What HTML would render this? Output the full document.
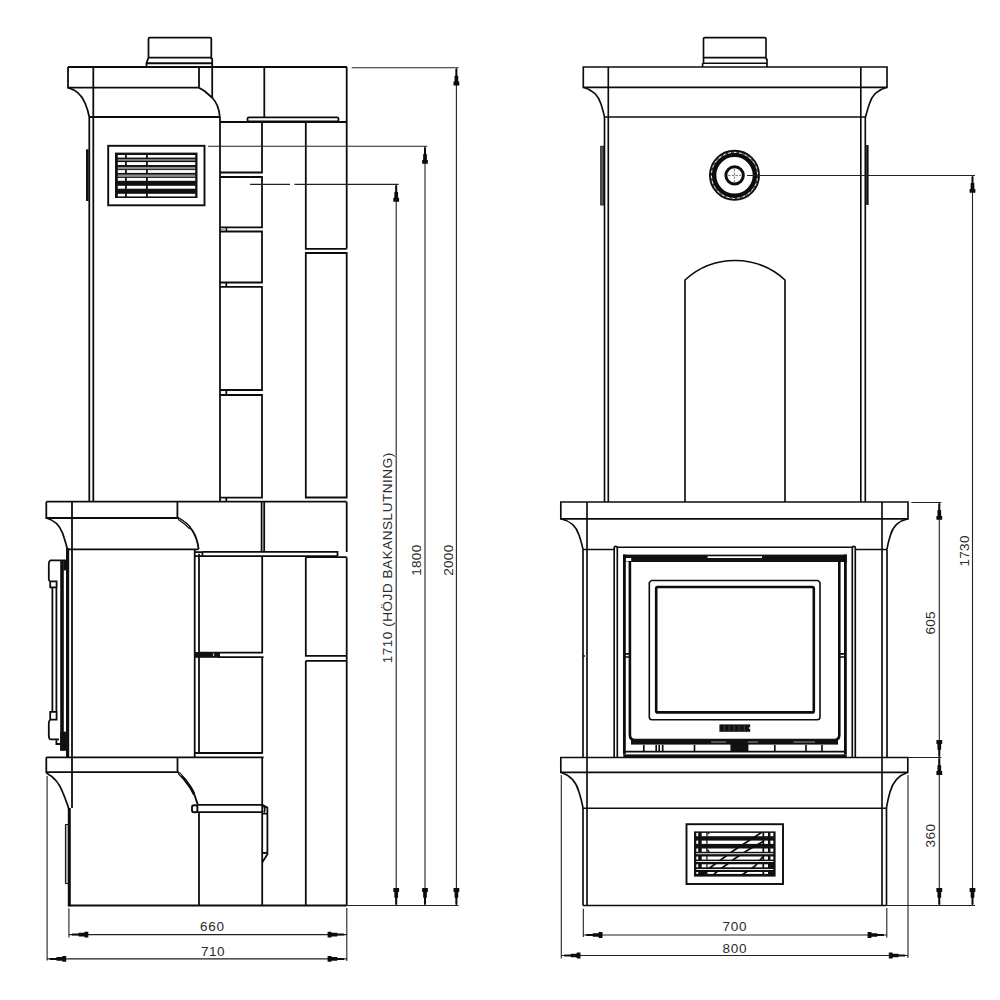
<!DOCTYPE html>
<html><head><meta charset="utf-8">
<style>
html,body{margin:0;padding:0;background:#fff;}
body{width:1000px;height:1000px;overflow:hidden;font-family:"Liberation Sans",sans-serif;}
svg{display:block}
.m{fill:none;stroke:#0c0c0c;stroke-width:1.78;stroke-linecap:butt;stroke-linejoin:miter}
.n{fill:none;stroke:#0c0c0c;stroke-width:1.65}
.k{fill:none;stroke:#0c0c0c;stroke-width:2.5}
.t{fill:none;stroke:#222;stroke-width:1.1}
.b{fill:#111;stroke:none}
.w{fill:#fff;stroke:none}
text{font-family:"Liberation Sans",sans-serif;font-size:13.5px;fill:#2b2b2b}
</style></head><body>
<svg width="1000" height="1000" viewBox="0 0 1000 1000">
<rect width="1000" height="1000" fill="#fff"/>
<defs>
<path id="ah" d="M-1,0 H1 V6.3 L1.85,6.8 V12.2 L2.9,12.7 V16.3 H-2.9 V12.7 L-1.85,12.2 V6.8 L-1,6.3 Z" fill="#0c0c0c"/>
</defs>

<!-- ================= LEFT (SIDE VIEW) ================= -->
<g id="left">
<!-- pipe -->
<path class="m" d="M148.5,57.6 V38.8 Q148.5,37.6 149.7,37.6 H210.1 Q211.3,37.6 211.3,38.8 V59.2 M148.5,57.6 H211.3 M146.5,63.25 H212.2 M148.5,57.6 L146.5,63.25 V67 M211.3,59.2 H212.2 V98"/>
<!-- top cap -->
<path class="m" d="M68,67 H347 M68,67 V87.7 H199 M199,67 V87.7 M93.3,67 V501.7 M264.3,67 V117 M346.7,67 V248.8"/>
<path class="m" d="M68,87.7 Q80,91 85,103 Q88,110 89.3,117"/>
<path class="m" d="M199,87.7 L204.5,91 L212.5,98 Q219,105 219.8,117"/>
<path class="m" d="M89.3,117 H219.8 M89.3,117 V501.7 M220,117 V501.7"/>
<!-- slab -->
<rect class="m" x="247.5" y="117.3" width="91" height="4.2" rx="1.5"/>
<path class="m" d="M220,122 H346.7"/>
<!-- tiles left column -->
<path class="m" d="M220,172.5 H262 V122 M220,177 H262 V227.3 H220 M220,231.5 H262 V282.5 H220 M220,286.8 H262 V390 H220 M220,395 H262 V497.6 H220"/>
<path class="m" d="M226.3,227.3 V231.5 M226.3,282.5 V286.8 M226.3,390 V395 M226.3,497.6 V501.7"/>
<path d="M221,229.5 H226" stroke="#aaa" stroke-width="1.6" fill="none"/>
<!-- right column -->
<path class="m" d="M305.8,122 V248.8 H346.7 M305.8,253 H346.7 V497.5 H305.8 Z"/>
<!-- vent -->
<rect class="m" x="108.2" y="145.8" width="96.3" height="59.5" style="stroke-width:1.9"/>
<rect class="b" x="115" y="152.6" width="82.5" height="45.4"/>
<g class="w">
<rect x="117.8" y="155" width="77.4" height="2.6"/>
<rect x="117.8" y="162.1" width="77.4" height="2.9"/>
<rect x="117.8" y="170.1" width="77.4" height="2.8"/>
<rect x="117.8" y="177.9" width="77.4" height="2.9"/>
<rect x="117.8" y="185.8" width="77.4" height="2.9"/>
<rect x="117.8" y="193.8" width="77.4" height="2.6"/>
</g>
<rect class="b" x="125" y="153" width="1.8" height="45"/>
<rect class="b" x="146" y="153" width="1.8" height="45"/>
<rect x="117.8" y="159.4" width="77.4" height="1.1" fill="#c8c8c8"/>
<rect x="117.8" y="166.9" width="77.4" height="2.3" fill="#8c8c8c"/>
<rect x="117.8" y="174.5" width="77.4" height="2.4" fill="#8c8c8c"/>
<!-- side handle -->
<rect class="b" x="86" y="149.3" width="2.6" height="51.7"/>

<!-- mid cap -->
<path class="m" d="M46.3,501.7 H346.7 M46.3,501.7 V518 H177.4 V501.7 M72,501.7 V808 M261.6,501.7 V551.5 M264.2,501.7 V551.5 M346.7,501.7 V552"/>
<path class="m" d="M46.3,518 Q58,521 62.5,533 Q66,543 67.3,549.3"/>
<path class="m" d="M177.3,517.3 L180,519.4 Q187.5,524 192,530 Q197.2,537.5 198.6,549" style="stroke-width:1.9"/>
<path class="m" d="M178.6,518.6 L180.5,520 Q186,523.5 190,528" style="stroke-width:3"/>
<path d="M179,518.9 L180.5,520 Q186,523.5 189.3,527.3" stroke="#fff" stroke-width="0.7" fill="none"/>
<path class="m" d="M67,549.3 H198.6 M194.7,549.3 V757 M199,553.7 V753"/>
<!-- shelf -->
<path class="m" d="M202.4,551.9 H337.5 V556.1 M195,556.1 H337.5 M195,552.2 H202.4 V556.1 M305.8,557.2 H346.7"/>
<!-- door edge -->
<rect class="b" x="66" y="548" width="3.2" height="209"/>
<rect class="b" x="60.2" y="560.4" width="3.6" height="190"/>
<rect class="b" x="63.5" y="560.4" width="3" height="10"/>
<rect class="b" x="60.2" y="731.6" width="8.4" height="19.2"/>
<!-- handle -->
<path class="m" d="M66,560.4 H50.5 Q48.6,561 48.8,566 V579 Q48.8,581 50.2,581.5 V587.4 H56.6 V581.4 H50.2 M52.4,587.4 V711.8 M56.4,587.4 V711.8 M50.2,719.6 V711.8 H56.6 V719.6 H50.2 M50.2,719.6 Q48.6,721 48.8,726 V735 Q48.8,739 50.5,739.4 H59 M56.4,739.4 V744 H60"/>
<!-- lower tiles -->
<path class="m" d="M199,652.6 H262.2 M218,657.1 H263.6 M194.7,753 H262.2 M262.2,556.1 V653.4 M262.2,656.3 V753.8 M262.2,757.2 V905.5"/>
<rect class="b" x="194" y="652" width="26" height="5.8"/><rect class="w" x="213.2" y="653.5" width="0.9" height="2.5"/>
<path class="m" d="M305.8,557.2 V655.8 H346.7 M305.8,660.8 H346.7 M305.8,660.8 V905.5 M346.7,557.2 V905.5"/>

<!-- bottom cap -->
<path class="m" d="M46.3,757.3 H263.6 M46.3,757.3 V772.2 H177.5 V757.3"/>
<path class="m" d="M46.4,773 Q58,779 63,793 Q67,803 68.7,808.5"/>
<path class="m" d="M177.3,771.8 L179.5,773.6 Q185,779 190.2,787 Q195.5,795.5 197.7,804.4" style="stroke-width:1.9"/>
<path class="m" d="M179,773.2 Q185,779 190.2,787 Q192.5,790.5 194,794" style="stroke-width:2.8"/>
<path d="M179.3,773.6 L181.5,775.7" stroke="#fff" stroke-width="0.8" fill="none"/>
<path class="m" d="M69.3,808 V906.3" style="stroke-width:3"/>
<path class="m" d="M68,905.5 H346.7"/>
<path class="n" d="M68,824.5 H65.4 V883.6 H68" style="fill:#aaa;stroke-width:1"/>
<!-- rail -->
<path class="m" d="M197,804.9 H262.5 L267.4,807.6 V854.3 L262.2,862.5 M197,812.1 H262 M262,813.6 H267.4 M262,852.6 Q265,853.6 267.4,852.2 M263.8,806 Q265.6,809 264,812.3"/>
<rect x="192" y="805.2" width="5.4" height="7" rx="2" class="m" style="stroke-width:1.9"/>
<path class="m" d="M199,812 V905.5"/>
</g>

<!-- left dimensions -->
<g id="ldim">
<path class="t" d="M351.7,67.7 H458.7 M456.4,67.7 V905.5 M208,146.2 H427.3 M425,146.2 V905.5 M250,184.4 H290 M294.5,184.4 H398.7 M396.2,184.4 V905.5 M347,905.5 H458.5"/>
<use href="#ah" x="456.4" y="69.1"/>
<use href="#ah" x="425" y="147.5"/>
<use href="#ah" x="396.2" y="185.4"/>
<use href="#ah" transform="translate(456.4,904.4) rotate(180)"/>
<use href="#ah" transform="translate(425,904.4) rotate(180)"/>
<use href="#ah" transform="translate(396.2,904.4) rotate(180)"/>
<path class="t" d="M68.9,908.3 V937.5 M346.8,908 V961 M47.1,776 V960.5 M68.9,934.6 H346.8 M47.1,958.9 H346.8"/>
<use href="#ah" transform="translate(72,934.6) rotate(-90)"/>
<use href="#ah" transform="translate(343.9,934.6) rotate(90)"/>
<use href="#ah" transform="translate(49.9,958.9) rotate(-90)"/>
<use href="#ah" transform="translate(343.9,958.9) rotate(90)"/>
<text x="200" y="931.4" textLength="24" lengthAdjust="spacing">660</text>
<text x="201" y="955.8" textLength="23.5" lengthAdjust="spacing">710</text>
<text transform="translate(392.1,663.3) rotate(-90)" textLength="210.5" lengthAdjust="spacing">1710 (HÖJD BAKANSLUTNING)</text>
<text transform="translate(420.9,575.8) rotate(-90)" textLength="31" lengthAdjust="spacing">1800</text>
<text transform="translate(452.6,575.8) rotate(-90)" textLength="31" lengthAdjust="spacing">2000</text>
</g>

<!-- ================= RIGHT (FRONT VIEW) ================= -->
<g id="right">
<path class="n" d="M703.5,63.25 V38.8 Q703.5,37.6 704.7,37.6 H764.8 Q766,37.6 766,38.8 V59.2 M703.5,57.6 H766 M702.6,63.25 H767 M702.6,63.25 V67 M766,59.2 H767 V67"/>
<path class="n" d="M583.3,67 H887 V87.3 H583.3 Z M608.3,67 V502 M860.8,67 V502"/>
<path class="n" d="M583.3,87.3 Q597,91 601,104 Q603.5,112 604.5,117 M887,87.3 Q873,91 869.3,104 Q866.8,112 865.5,117"/>
<path class="n" d="M604.5,117 H865.5 M604.5,117 V502 M865.3,117 V502"/>
<rect x="600.7" y="146.2" width="3" height="58.8" class="n" style="fill:#555;stroke-width:0.8"/>
<rect x="866.2" y="145" width="2.4" height="60" class="b"/>
<!-- circle -->
<circle cx="734.5" cy="175.3" r="24.55" class="n" style="stroke-width:1.9"/>
<circle cx="734.5" cy="175.3" r="20.4" class="n" style="stroke-width:4.4"/>
<circle cx="734.5" cy="175.3" r="23.1" fill="none" stroke="#0c0c0c" stroke-width="1" stroke-dasharray="3 2.5"/>
<circle cx="734.6" cy="175.4" r="8.7" class="n" style="stroke-width:3"/>
<path d="M728,175.4 H741 M734.4,169 V182" stroke="#666" stroke-width="0.9" stroke-dasharray="2.5 1.2" fill="none"/>
<!-- arch -->
<path class="n" d="M685,502 V280 A73.85,73.85 0 0 1 785,280 V502"/>
<!-- mid cap -->
<path class="n" d="M560.8,502 H908 V518.8 H560.8 Z M587,502 V757.5 M882,502 V757.5"/>
<path class="n" d="M560.8,518.8 Q575,522 579,535 Q582,544 583,549.5 M908,518.8 Q894,522 890.5,535 Q887.7,544 887,549.5"/>
<path class="n" d="M583,549.5 H614 M855.3,549.5 H887 M583,549.5 V757.5 M887,549.5 V757.5 M617.3,547.2 H852.3"/>
<path class="n" d="M614.2,757 V547.5 Q614.2,546.3 615.7,546.3 Q617.3,546.3 617.3,547.5 V757 M852.3,757 V547.5 Q852.3,546.3 853.8,546.3 Q855.3,546.3 855.3,547.5 V757"/>
<!-- door -->
<rect class="b" x="623.3" y="554.6" width="223.4" height="7.4"/>
<rect class="w" x="707.6" y="556.3" width="54.4" height="1.7"/>
<rect class="w" x="625.6" y="558" width="5.6" height="3.5"/>
<path class="k" d="M624.4,554.6 V754.5 M845.4,554.6 V754.5" style="stroke-width:2.8"/>
<path class="k" d="M629.9,561 V735 Q629.9,740 635,740 H834 Q839.3,740 839.3,735 V561" style="stroke-width:2.6"/>
<rect class="b" x="631" y="739" width="207" height="5.6"/>
<path class="n" d="M625,653.8 H631 M625,657 H631 M839,653.8 H845 M839,657 H845 M583,656 H585"/>
<!-- glass -->
<path class="n" d="M651.5,580.5 H818 L820,582.5 V717 Q820,719.7 817,719.7 H652 Q649.3,719.7 649.3,717 V582.5 Z" style="stroke-width:1.6"/>
<rect class="k" x="656.2" y="587" width="157.6" height="125.4" rx="1.5" style="stroke-width:2.6"/>
<rect class="b" x="719.4" y="724.4" width="30.8" height="7.4"/>
<path d="M724.3,725.5 V730.8 M729.2,725.5 V730.8 M734.2,725.5 V730.8 M739.2,725.5 V730.8 M744.3,725.5 V730.8" stroke="#777" stroke-width="0.5" fill="none"/>
<path d="M750.4,726.6 L748.6,728.1 L750.4,729.6 Z" fill="#fff"/>
<!-- door bottom details -->
<rect class="b" x="730.4" y="739" width="18" height="12"/>
<path d="M711.2,742 H726.2 M747.8,742 H758 M793.4,742 H815" stroke="#999" stroke-width="1" fill="none"/>
<path class="n" d="M624,751.6 H846 M643.8,745 V751 M656.2,745 V751 M659.2,745 V751 M662.7,745 V751 M694.5,745 V751 M774.8,745 V751 M806,745 V751 M822,745 V751"/>
<rect class="b" x="623.3" y="754.4" width="223.4" height="3.6"/>
<!-- bottom cap -->
<path class="n" d="M560.8,757.5 H907.8 V772.3 H560.8 Z M587,757.5 V808 M882,757.5 V808"/>
<path class="n" d="M560.8,772.3 Q575,777 579,792 Q582,802 583,808 M907.8,772.3 Q894,777 890,792 Q887.3,802 886.5,808"/>
<path class="n" d="M583,808.2 H886.5 M583,808 V905.5 M587,808 V905.5 M882,808 V905.5 M886.5,808 V905.5 M583,905.5 H886.5"/>
<!-- vent -->
<rect class="n" x="686.5" y="824.2" width="96.5" height="59.8" style="stroke-width:1.9"/>
<rect class="b" x="694" y="831.4" width="81.6" height="45.2"/>
<g class="w">
<rect x="696.3" y="832.9" width="1.9" height="3.3"/>
<rect x="701.7" y="832.9" width="4.6" height="3.3"/>
<rect x="707.5" y="832.9" width="54.9" height="3.3"/>
<rect x="764.2" y="832.9" width="3.8" height="3.3"/>
<rect x="770.4" y="832.9" width="2.9" height="3.3"/>
<rect x="696.3" y="840.6" width="1.9" height="3.3"/>
<rect x="701.7" y="840.6" width="4.6" height="3.3"/>
<rect x="707.5" y="840.6" width="54.9" height="3.3"/>
<rect x="764.2" y="840.6" width="3.8" height="3.3"/>
<rect x="770.4" y="840.6" width="2.9" height="3.3"/>
<rect x="696.3" y="848.5" width="1.9" height="3.3"/>
<rect x="701.7" y="848.5" width="4.6" height="3.3"/>
<rect x="707.5" y="848.5" width="54.9" height="3.3"/>
<rect x="764.2" y="848.5" width="3.8" height="3.3"/>
<rect x="770.4" y="848.5" width="2.9" height="3.3"/>
<rect x="696.3" y="856.5" width="1.9" height="3.1"/>
<rect x="701.7" y="856.5" width="4.6" height="3.1"/>
<rect x="707.5" y="856.5" width="54.9" height="3.1"/>
<rect x="764.2" y="856.5" width="3.8" height="3.1"/>
<rect x="770.4" y="856.5" width="2.9" height="3.1"/>
<rect x="696.3" y="864.3" width="1.9" height="3.0"/>
<rect x="701.7" y="864.3" width="4.6" height="3.0"/>
<rect x="707.5" y="864.3" width="54.9" height="3.0"/>
<rect x="764.2" y="864.3" width="3.8" height="3.0"/>
<rect x="696.3" y="872.0" width="1.9" height="1.9"/>
<rect x="707.5" y="872.0" width="54.9" height="1.9"/>
<rect x="764.2" y="872.0" width="3.8" height="1.9"/>
</g>
<path d="M761.5,832.5 L746,842.5 L733,851 L722,859 L711,867 L700,876 M764,841 L748,850 L735,858.5 L724,866.5 L714,874 M763,856.5 L755,866 L742,875" stroke="#0c0c0c" stroke-width="1.7" fill="none"/>
<path d="M708,836.2 Q707.5,833 711,832.9 L707.5,832.9 Z M707.5,851.8 L710,851.8 L707.5,848.5 Z" fill="#0c0c0c"/>
<g class="w"><rect x="696.3" y="853.3" width="77" height="0.9"/><rect x="696.3" y="861.1" width="77" height="0.9"/><rect x="696.3" y="869" width="77" height="0.9"/></g>
</g>

<!-- right dimensions -->
<g id="rdim">
<path class="t" d="M747,175.5 H975 M972.5,175.5 V905.5 M911.3,502.5 H941.3 M907.8,757.5 H941.3 M939.3,502.5 V905.5 M886.5,905.5 H975"/>
<use href="#ah" x="972.5" y="176.5"/>
<use href="#ah" transform="translate(972.5,904.4) rotate(180)"/>
<use href="#ah" x="939.3" y="503.5"/>
<use href="#ah" transform="translate(939.3,756.4) rotate(180)"/>
<use href="#ah" x="939.3" y="758.6"/>
<use href="#ah" transform="translate(939.3,904.4) rotate(180)"/>
<path class="t" d="M583.3,908.8 V937 M886.8,908 V937.5 M561.3,775 V958.5 M908,775 V958 M583.3,935 H886.8 M561.3,955.5 H908"/>
<use href="#ah" transform="translate(586.2,935) rotate(-90)"/>
<use href="#ah" transform="translate(883.9,935) rotate(90)"/>
<use href="#ah" transform="translate(564.2,955.5) rotate(-90)"/>
<use href="#ah" transform="translate(905.1,955.5) rotate(90)"/>
<text x="722.5" y="931.4" textLength="24" lengthAdjust="spacing">700</text>
<text x="722.5" y="952.6" textLength="24" lengthAdjust="spacing">800</text>
<text transform="translate(934.8,634.5) rotate(-90)" textLength="23" lengthAdjust="spacing">605</text>
<text transform="translate(934.8,847.5) rotate(-90)" textLength="23.5" lengthAdjust="spacing">360</text>
<text transform="translate(969,566.6) rotate(-90)" textLength="31" lengthAdjust="spacing">1730</text>
</g>
</svg>
</body></html>
